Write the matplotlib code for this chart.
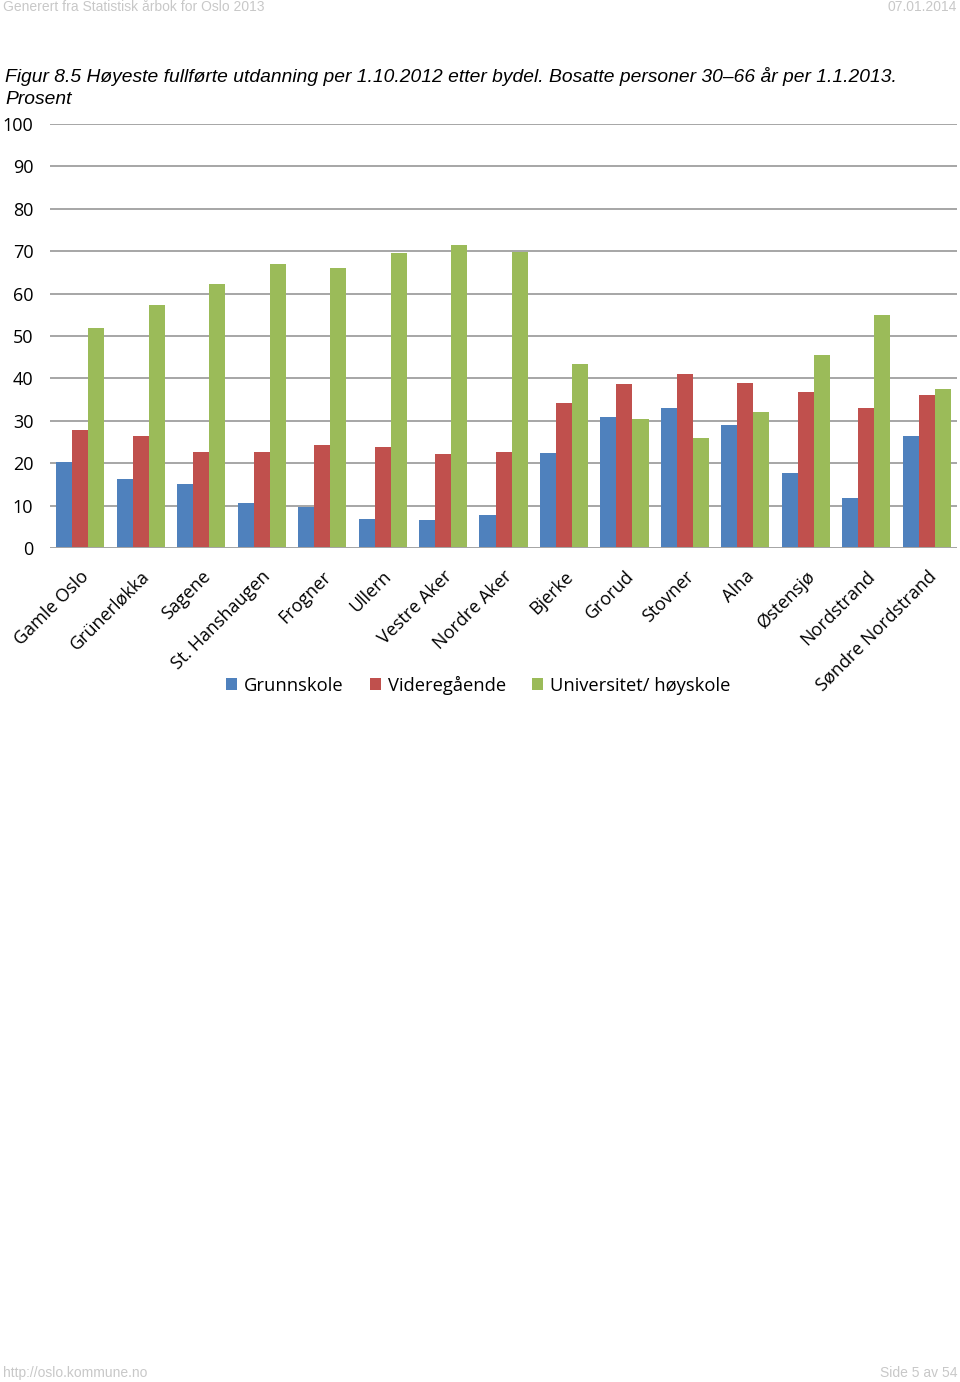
import matplotlib

matplotlib.use("Agg")
import matplotlib.pyplot as plt
import numpy as np

# ── Data (percent) ───────────────────────────────────────────────────────────
bydeler = [
    "Gamle Oslo", "Grünerløkka", "Sagene", "St. Hanshaugen", "Frogner",
    "Ullern", "Vestre Aker", "Nordre Aker", "Bjerke", "Grorud",
    "Stovner", "Alna", "Østensjø", "Nordstrand", "Søndre Nordstrand",
]
grunnskole = [20.3, 16.3, 15.2, 10.6, 9.6, 6.9, 6.7, 7.8, 22.3, 30.9,
              33.0, 29.0, 17.7, 11.9, 26.5]
videregaende = [27.9, 26.4, 22.7, 22.6, 24.4, 23.8, 22.1, 22.6, 34.2, 38.6,
                41.1, 39.0, 36.8, 33.1, 36.0]
universitet = [51.8, 57.4, 62.2, 66.9, 66.1, 69.5, 71.4, 69.9, 43.5, 30.4,
               26.0, 32.0, 45.6, 55.0, 37.5]
series_names = ["Grunnskole", "Videregående", "Universitet/ høyskole"]
yticks = np.arange(0, 101, 10)

# ── Style ─────────────────────────────────────────────────────────────────────
COLORS = ["#4F81BD", "#C0504D", "#9BBB59"]
FONT = "Open Sans"
GRID = "#a6a6a6"
PAGE_GRAY = "#c8c8c8"

fig = plt.figure(figsize=(9.6, 13.82), dpi=100)
ax = fig.add_axes([0.052, 1 - 548 / 1382, 0.945, (548 - 124) / 1382])

x = np.arange(len(bydeler))
bar_w = 0.265
for k, vals in enumerate([grunnskole, videregaende, universitet]):
    ax.bar(x + (k - 1) * bar_w, vals, bar_w, color=COLORS[k],
           label=series_names[k], zorder=3, linewidth=0)

ax.set_xlim(-0.5, len(bydeler) - 0.5)
ax.set_ylim(0, 100)
ax.set_yticks(yticks)
ax.set_yticklabels([str(v) for v in yticks], fontsize=13, family=FONT)
ax.yaxis.grid(True, color=GRID, lw=1.4, zorder=0)
ax.tick_params(axis="y", length=0, pad=12)
for s in ax.spines.values():
    s.set_visible(False)
ax.axhline(0, color=GRID, lw=1.4, zorder=4)

ax.set_xticks(x)
ax.set_xticklabels(bydeler, rotation=45, ha="right", va="top",
                   rotation_mode="anchor", fontsize=13, family=FONT)
ax.tick_params(axis="x", length=0, pad=14)

ax.legend(loc="upper center", bbox_to_anchor=(0.472, -0.262), ncol=3,
          frameon=False, handlelength=0.6, handleheight=0.6,
          handletextpad=0.4, columnspacing=1.4,
          prop={"family": FONT, "size": 13.2})

# Title and page furniture
title_kw = dict(family="Liberation Sans", style="italic", fontsize=13.9,
                va="center", ha="left")
fig.text(5 / 960, 1 - 77 / 1382,
         "Figur 8.5 Høyeste fullførte utdanning per 1.10.2012 etter bydel. "
         "Bosatte personer 30–66 år per 1.1.2013.", **title_kw)
fig.text(5 / 960, 1 - 100 / 1382, "Prosent", **title_kw)

fig.text(3 / 960, 1 - 7 / 1382, "Generert fra Statistisk årbok for Oslo 2013",
         family="Liberation Sans", fontsize=10, color=PAGE_GRAY, va="center")
fig.text(957 / 960, 1 - 7 / 1382, "07.01.2014", family="Liberation Sans",
         fontsize=10, color=PAGE_GRAY, va="center", ha="right")
fig.text(3 / 960, 1 - 1373 / 1382, "http://oslo.kommune.no",
         family="Liberation Sans", fontsize=10, color=PAGE_GRAY, va="center")
fig.text(957 / 960, 1 - 1373 / 1382, "Side 5 av 54", family="Liberation Sans",
         fontsize=10, color=PAGE_GRAY, va="center", ha="right")

fig.savefig("out.png", dpi=100)
